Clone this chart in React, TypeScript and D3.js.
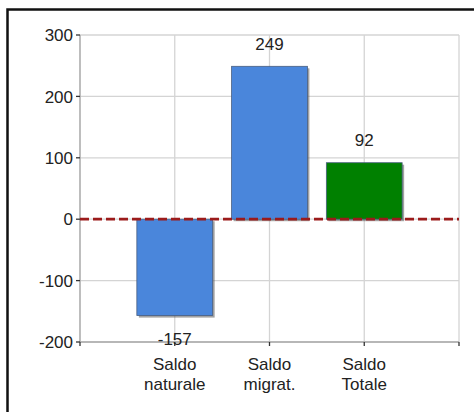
import React from "react";
import * as d3 from "d3";

const categories: string[][] = [["Saldo", "naturale"], ["Saldo", "migrat."], ["Saldo", "Totale"]];
const values: number[] = [-157, 249, 92];
const barColors: string[] = ["#4a86db", "#4a86db", "#008000"];
const yTicks: number[] = [-200, -100, 0, 100, 200, 300];
const xGrid: number[] = [0, 1, 2, 3, 4];

const W = 474;
const H = 412;

export default function App() {
  const x = d3.scaleLinear().domain([0, 4]).range([80, 459]);
  const y = d3.scaleLinear().domain([-200, 300]).range([342, 35]);
  const half = 0.4;
  const font = "'Liberation Sans', Arial, sans-serif";
  const fs = 17;
  return (
    <svg width={W} height={H} style={{ position: "absolute", left: 0, top: 0, background: "#fff" }}>
      {/* frame */}
      <path d={`M7.5,${H + 5} V9.5 H${W + 5}`} fill="none" stroke="#111" strokeWidth={2.5} />
      {/* grid */}
      {yTicks.map((t) => (
        <line key={"gy" + t} x1={x(0)} x2={x(4)} y1={y(t)} y2={y(t)} stroke="#d4d4d4" strokeWidth={1.3} />
      ))}
      {xGrid.map((t) => (
        <line key={"gx" + t} x1={x(t)} x2={x(t)} y1={y(300)} y2={y(-200)} stroke="#d4d4d4" strokeWidth={1.3} />
      ))}
      {/* axes */}
      <line x1={x(0)} x2={x(0)} y1={y(300)} y2={y(-200)} stroke="#aaa" strokeWidth={1.3} />
      <line x1={x(0)} x2={x(4)} y1={y(-200)} y2={y(-200)} stroke="#aaa" strokeWidth={1.3} />
      {yTicks.map((t) => (
        <g key={"yt" + t}>
          <line x1={x(0) - 4} x2={x(0)} y1={y(t)} y2={y(t)} stroke="#333" strokeWidth={1.3} />
          <text x={x(0) - 7} y={y(t)} dy="0.36em" textAnchor="end" fontFamily={font} fontSize={fs} fill="#222">
            {t}
          </text>
        </g>
      ))}
      {xGrid.map((t) => (
        <line key={"xt" + t} x1={x(t)} x2={x(t)} y1={y(-200)} y2={y(-200) + 4} stroke="#333" strokeWidth={1.3} />
      ))}
      {/* bars */}
      {values.map((v, i) => {
        const x0 = x(i + 1 - half);
        const x1 = x(i + 1 + half);
        const top = y(Math.max(0, v));
        const bot = y(Math.min(0, v));
        return (
          <g key={"b" + i}>
            <rect x={x0 + 2} y={top + 2} width={x1 - x0} height={bot - top} fill="#555" opacity={0.55} />
            <rect x={x0} y={top} width={x1 - x0} height={bot - top} fill={barColors[i]} stroke="#4a5f80" strokeWidth={0.8} />
          </g>
        );
      })}
      {/* zero line */}
      <line x1={x(0)} x2={x(4)} y1={y(0)} y2={y(0)} stroke="#9b1b1b" strokeWidth={2.8} strokeDasharray="9,4" />
      {/* value labels */}
      {values.map((v, i) => (
        <text
          key={"v" + i}
          x={x(i + 1)}
          y={v >= 0 ? y(v) - 16.5 : y(v) + 29.5}
          textAnchor="middle"
          fontFamily={font}
          fontSize={fs}
          fill="#222"
        >
          {v}
        </text>
      ))}
      {/* category labels */}
      {categories.map((c, i) => (
        <text key={"c" + i} x={x(i + 1)} y={370} textAnchor="middle" fontFamily={font} fontSize={fs} fill="#222">
          {c.map((line, j) => (
            <tspan key={j} x={x(i + 1)} dy={j === 0 ? 0 : 20}>
              {line}
            </tspan>
          ))}
        </text>
      ))}
    </svg>
  );
}
